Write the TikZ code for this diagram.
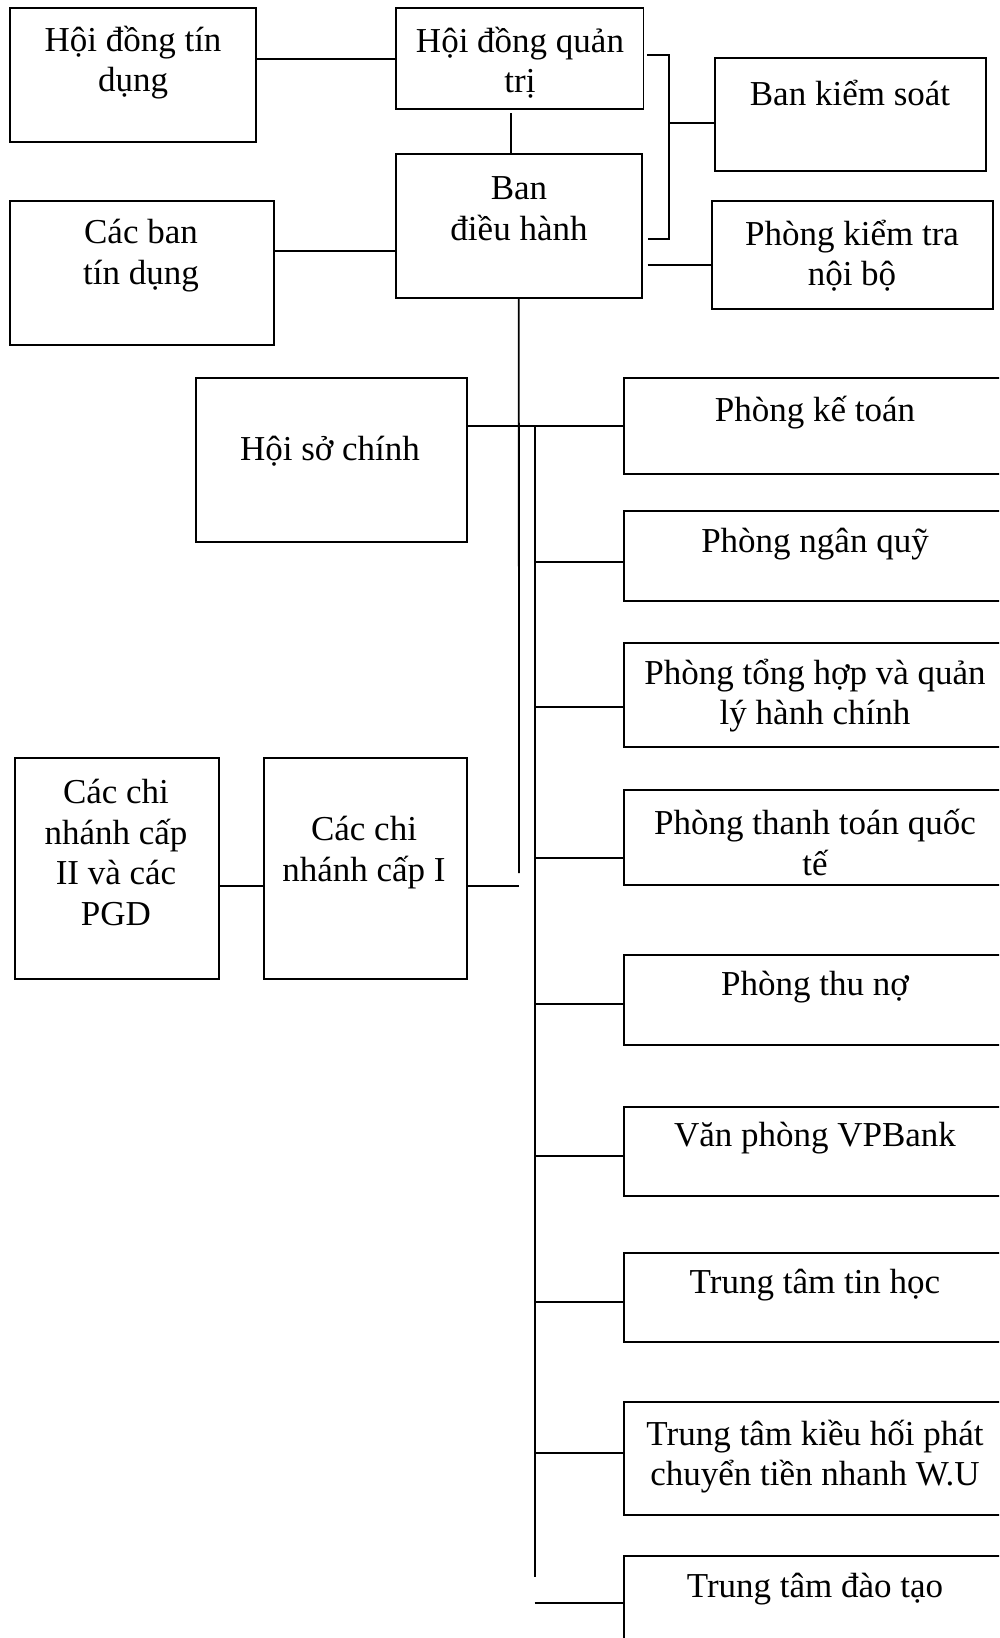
\documentclass[tikz,border=0pt]{standalone}
\usepackage{fontspec}
\setmainfont{Liberation Serif}

\begin{document}
\begin{tikzpicture}[x=1pt, y=-1pt,
    box/.style={draw, line width=1.8pt, inner sep=0pt},
    lbl/.style={align=center, inner sep=0pt, yshift=-6.5pt, font=\fontsize{35}{40.5}\selectfont},
    conn/.style={line width=1.8pt}]
    \clip (0,0) rectangle (999,1638);
    \fill[white] (0,0) rectangle (999,1638);

    % Board level
    \node[box, minimum width=246.4, minimum height=133.7] (hdtd) at (132.8,75.2) {};
    \node[lbl] (hdtd-t) at (133,56) {Hội đồng tín\\dụng};
    \node[box, minimum width=247.5, minimum height=101] (hdqt) at (519.75,58.8) {};
    \node[lbl] (hdqt-t) at (520,56) {Hội đồng quản\\trị};
    \node[box, minimum width=271, minimum height=113.3] (bks) at (850.5,114.3) {};
    \node[lbl] (bks-t) at (850,86) {Ban kiểm soát};

    % Executive level
    \node[box, minimum width=245.6, minimum height=144] (bdh) at (518.8,226) {};
    \node[lbl] (bdh-t) at (519,202) {Ban\\điều hành};
    \node[box, minimum width=264.4, minimum height=144] (cbtd) at (141.8,273) {};
    \node[lbl] (cbtd-t) at (141,249) {Các ban\\tín dụng};
    \node[box, minimum width=281, minimum height=108] (pktnb) at (852.5,255) {};
    \node[lbl] (pktnb-t) at (852,249) {Phòng kiểm tra\\nội bộ};

    % Head office and branches
    \node[box, minimum width=271, minimum height=163.7] (hsc) at (331.2,459.8) {};
    \node[lbl] (hsc-t) at (330,445) {Hội sở chính};
    \node[box, minimum width=203.7, minimum height=221] (cn2) at (117.2,868.5) {};
    \node[lbl] (cn2-t) at (116,846) {Các chi\\nhánh cấp\\II và các\\PGD};
    \node[box, minimum width=203, minimum height=221] (cn1) at (365.5,868.5) {};
    \node[lbl] (cn1-t) at (364,846) {Các chi\\nhánh cấp I};

    % Departments on the right
    \foreach \n/\yc/\h/\ty/\txt in {
        pkt/426/96/406/{Phòng kế toán},
        pnq/556/90/538/{Phòng ngân quỹ},
        pth/695/104/689/{Phòng tổng hợp và quản\\lý hành chính},
        pttqt/837.5/95/836/{Phòng thanh toán quốc\\tế},
        ptn/1000/90/981/{Phòng thu nợ},
        vp/1151.5/89/1132/{Văn phòng VPBank},
        tttin/1297.5/89/1279/{Trung tâm tin học},
        ttkh/1458.5/113/1450/{Trung tâm kiều hối phát\\chuyển tiền nhanh W.U},
        ttdt/1618/124/1583/{Trung tâm đào tạo}} {
        \node[box, minimum width=382, minimum height=\h] (\n) at (815,\yc) {};
        \node[lbl] (\n-t) at (815,\ty) {\txt};
    }

    % Top connectors
    \draw[conn] (hdtd.east |- hdqt.west) -- (hdqt.west);
    \path ([xshift=-8pt]bdh.north) coordinate (bdh-in);
    \draw[conn] ([yshift=-3pt]bdh-in |- hdqt.south) -- (bdh-in);
    \coordinate (brtop) at (669,55);
    \coordinate (brbot) at (669,239);
    \draw[conn] ([xshift=3pt]hdqt.east |- brtop) -- (brtop) -- (brbot) -- ([xshift=5pt]bdh.east |- brbot);
    \path ([yshift=-8.5pt]bks.west) coordinate (bks-in);
    \draw[conn] (brtop |- bks-in) -- (bks-in);
    \path ([yshift=-10pt]pktnb.west) coordinate (pktnb-in);
    \draw[conn, line width=2.4pt] ([xshift=5pt]bdh.east |- pktnb-in) -- (pktnb-in);
    \path ([yshift=22pt]cbtd.east) coordinate (cbtd-out);
    \draw[conn] (cbtd-out) -- (bdh.west |- cbtd-out);

    % Trunk and branches
    \coordinate (trunkend) at (519,873);
    \draw[conn] (bdh.south) -- (trunkend);
    \path ([yshift=-17.5pt]cn1.east) coordinate (cn1-out);
    \draw[conn] (cn1-out) -- (trunkend |- cn1-out);
    \draw[conn] (cn2.east |- cn1-out) -- (cn1.west |- cn1-out);

    % Bus to departments
    \draw[conn] (hsc.east |- pkt.west) -- (pkt.west);
    \coordinate (bustop) at (534.6,426);
    \coordinate (busbot) at (534.6,1577);
    \draw[conn] (bustop) -- (busbot);
    \foreach \n/\dy in {pnq/-6pt, pth/-12pt, pttqt/-20.5pt, ptn/-4pt, vp/-4.5pt,
        tttin/-4.5pt, ttkh/5.5pt, ttdt/15pt} {
        \path ([yshift=\dy]\n.west) coordinate (\n-in);
        \draw[conn] (bustop |- \n-in) -- (\n-in);
    }
\end{tikzpicture}
\end{document}
